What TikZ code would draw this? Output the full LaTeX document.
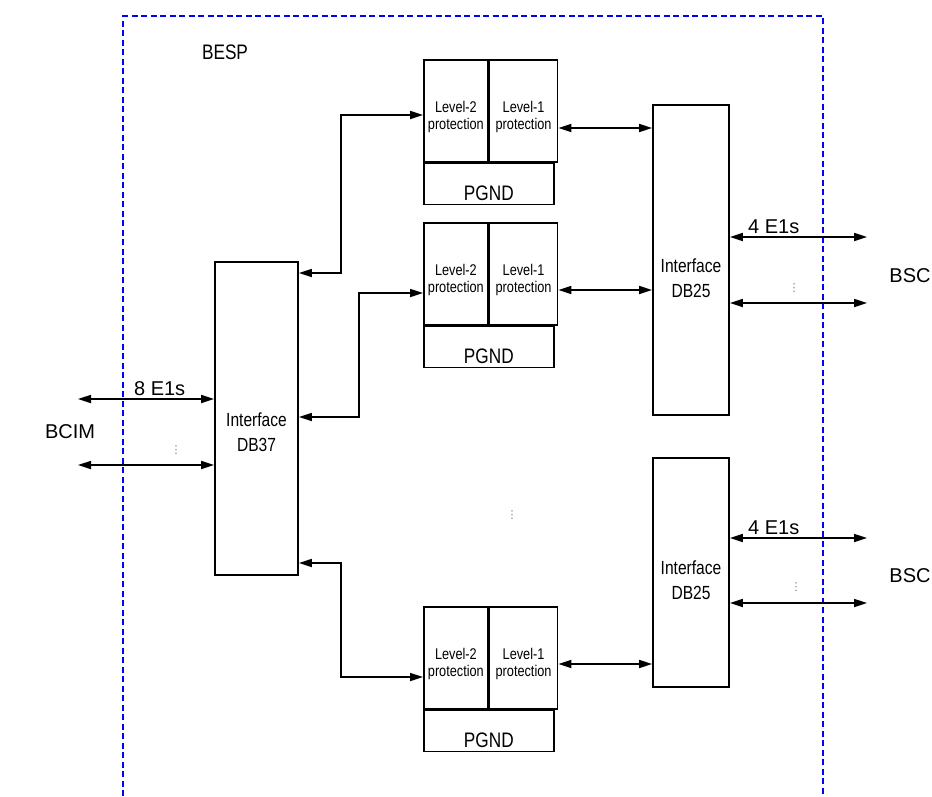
\documentclass[tikz,border=0pt]{standalone}
\usepackage{fontspec}
\setmainfont{Liberation Sans}
\newfontfamily\narrowfont{Liberation Sans}[FakeStretch=0.82]
\newfontfamily\symfont{DejaVu Sans}
\usepackage{tikz}
\usetikzlibrary{arrows.meta, positioning, calc}
\definecolor{frameblue}{RGB}{0, 0, 255}

\begin{document}
\begin{tikzpicture}[
    x=1pt, y=-1pt,
    box/.style={rectangle, draw, line width=1.7pt, inner sep=0pt, align=center},
    prot/.style={box, minimum height=102pt, text height=40pt, text depth=3pt,
                 font=\narrowfont\fontsize{15.5}{17}\selectfont},
    ground/.style={box, minimum width=130pt, minimum height=41pt, align=none,
                   text height=32pt, text depth=0pt, font=\narrowfont\fontsize{21}{21}\selectfont},
    iface/.style={align=center, inner sep=0pt, font=\narrowfont\fontsize{19}{25}\selectfont},
    link/.style={{Triangle[length=13pt,width=8pt]}-{Triangle[length=13pt,width=8pt]}, line width=1.7pt},
    lbl/.style={font=\fontsize{20}{22}\selectfont},
    more/.style={inner sep=0pt, text=gray, font=\symfont\fontsize{11}{11}\selectfont}
]
\useasboundingbox (0,0) rectangle (932,796);

% BESP frame
\draw[frameblue, dashed, dash pattern=on 6pt off 3.5pt, line width=1.4pt]
    (123,796) -- (123,16) -- (823,16) -- (823,796);
\node[font=\narrowfont\fontsize{21}{21}\selectfont] (besp) at (225,52) {BESP};

% Interface boxes
\node[box, minimum width=83pt, minimum height=313pt] (db37) at (256.5,418.5) {};
\node[iface] (db37txt) at ($(db37)+(0,14)$) {Interface\\DB37};
\node[box, minimum width=76pt, minimum height=310pt] (db25a) at (691,260) {};
\node[iface] (db25atxt) at ($(db25a)+(0,18)$) {Interface\\DB25};
\node[box, minimum width=76pt, minimum height=229pt] (db25b) at (691,572.5) {};
\node[iface] (db25btxt) at ($(db25b)+(0,8)$) {Interface\\DB25};

% Protection groups
\foreach \g/\yt in {a/59, b/222, c/606} {
  \node[prot, minimum width=64pt, anchor=north west] (l2\g) at (423,\yt) {Level-2\\protection};
  \node[prot, minimum width=68pt, right=0pt of l2\g] (l1\g) {Level-1\\protection};
  \node[ground, anchor=north west] (pgnd\g) at (l2\g.south west) {PGND};
}

% DB37 to protection
\draw[link] (db37.east |- 0,273) -| (341,115) -- (l2a.west |- 0,115);
\draw[link] (db37.east |- 0,417) -| (359,293) -- (l2b.west |- 0,293);
\draw[link] (db37.east |- 0,563) -| (341,677) -- (l2c.west |- 0,677);

% protection to DB25
\draw[link] (l1a.east |- 0,128) -- (db25a.west |- 0,128);
\draw[link] (l1b.east |- 0,290) -- (db25a.west |- 0,290);
\draw[link] (l1c.east |- 0,664) -- (db25b.west |- 0,664);

% BCIM side
\node[lbl] (bcim) at (70,432) {BCIM};
\coordinate (w1) at (78,399);
\coordinate (w2) at (78,465);
\draw[link] (w1) -- node[lbl, above, pos=0.6, inner sep=2pt] {8 E1s} (db37.west |- w1);
\draw[link] (w2) -- (db37.west |- w2);
\node[more] (wdots) at (176,450) {⋮};

% BSC side
\node[lbl] (bsca) at (910,276) {BSC};
\node[lbl] (bscb) at (910,576) {BSC};
\coordinate (e1) at (867,237);
\coordinate (e2) at (867,303);
\coordinate (e3) at (867,538);
\coordinate (e4) at (867,603);
\draw[link] (db25a.east |- e1) -- node[lbl, above, pos=0.32, inner sep=2pt] {4 E1s} (e1);
\draw[link] (db25a.east |- e2) -- (e2);
\draw[link] (db25b.east |- e3) -- node[lbl, above, pos=0.32, inner sep=2pt] {4 E1s} (e3);
\draw[link] (db25b.east |- e4) -- (e4);
\node[more] (edotsa) at (794,288) {⋮};
\node[more] (edotsb) at (796,587) {⋮};
\node[more] (mdots) at (512,515) {⋮};

\end{tikzpicture}
\end{document}
